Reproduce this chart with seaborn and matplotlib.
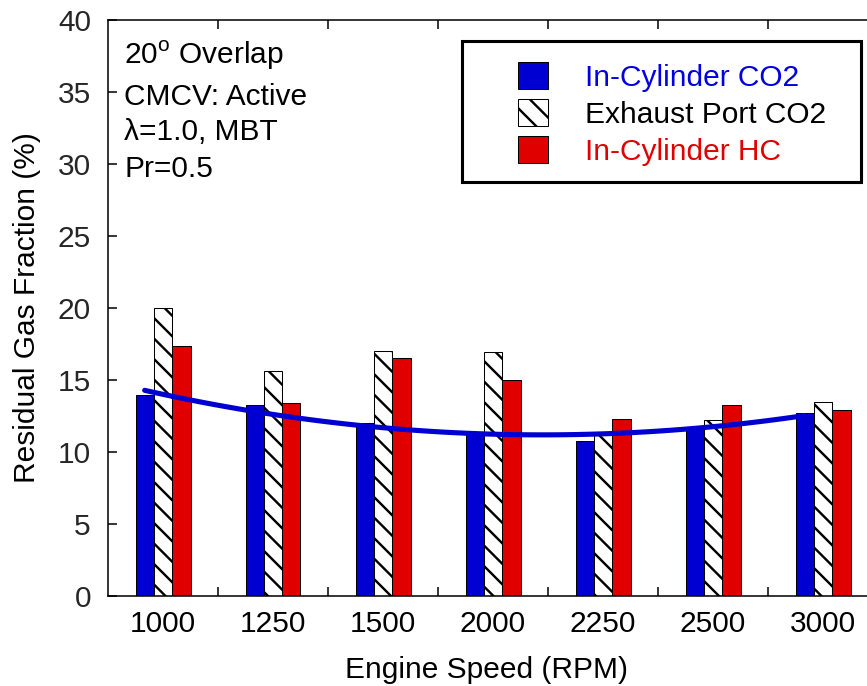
import numpy as np
import pandas as pd
import matplotlib
matplotlib.use("Agg")
import matplotlib.pyplot as plt
from matplotlib.patches import Rectangle
import seaborn as sns

# Engine speeds (categories) and residual gas fractions (%)
speeds = ["1000", "1250", "1500", "2000", "2250", "2500", "3000"]
in_cyl_co2 = [13.94, 13.24, 12.04, 11.25, 10.76, 11.64, 12.71]
exhaust_co2 = [20.0, 15.65, 17.0, 16.92, 11.3, 12.2, 13.5]
in_cyl_hc = [17.38, 13.38, 16.55, 14.98, 12.32, 13.24, 12.94]

series_names = ["In-Cylinder CO2", "Exhaust Port CO2", "In-Cylinder HC"]
notes = ["20$^{\\mathrm{o}}$ Overlap", "CMCV: Active", "\u03bb=1.0, MBT", "Pr=0.5"]

BLUE = "#0000D2"
RED = "#E00000"

sns.set_theme(style="ticks")
plt.rcParams["font.family"] = ["Liberation Sans", "DejaVu Sans"]
plt.rcParams["mathtext.fontset"] = "custom"
plt.rcParams["mathtext.rm"] = "Liberation Sans"
plt.rcParams["hatch.linewidth"] = 1.4
plt.rcParams["hatch.color"] = "black"

df = pd.DataFrame({
    "speed": speeds * 3,
    "value": in_cyl_co2 + exhaust_co2 + in_cyl_hc,
    "series": [n for n in series_names for _ in speeds],
})

DPI = 123
fig = plt.figure(figsize=(867 / DPI, 686 / DPI), dpi=DPI)
ax = fig.add_axes([108 / 867, 90 / 686, 770 / 867, 576 / 686])

sns.barplot(data=df, x="speed", y="value", hue="series", order=speeds,
            hue_order=series_names, palette=[BLUE, "white", RED],
            width=0.5, edgecolor="black", linewidth=0.6, saturation=1,
            legend=False, ax=ax)

# hatch the exhaust-port bars
for bar in ax.containers[1]:
    bar.set_hatch("\\\\")
    bar.set_edgecolor("black")

# quadratic trend through the in-cylinder CO2 bars
xpos = np.arange(len(speeds)) - 1 / 6
sns.regplot(x=xpos, y=np.array(in_cyl_co2), order=2, ci=None, scatter=False,
            truncate=True, line_kws=dict(color=BLUE, lw=3.0), ax=ax)

FS = 17.5
ax.set_xlim(-0.5, 6.5)
ax.set_ylim(0, 40)
ax.set_yticks(np.arange(0, 41, 5))
ax.set_xticks(range(len(speeds)))
ax.set_xticklabels(speeds)
ax.set_xticks(np.arange(0.5, 6.5, 1), minor=True)
ax.tick_params(axis="x", which="major", length=0, pad=8, labelsize=FS,
               colors="black")
ax.tick_params(axis="x", which="minor", direction="in", length=5.3, width=0.9,
               top=True, bottom=True, color="black")
ax.tick_params(axis="y", which="major", direction="in", length=5.3, width=0.9,
               left=True, right=True, pad=10, labelsize=FS, color="black")
for s in ax.spines.values():
    s.set_visible(True)
    s.set_linewidth(0.9)
    s.set_color("black")

ax.set_xlabel("Engine Speed (RPM)", fontsize=FS, color="black")
ax.set_ylabel("Residual Gas Fraction (%)", fontsize=FS, color="black")
ax.xaxis.set_label_coords(0.492, -0.104)
ax.yaxis.set_label_coords(-0.087, 0.5)

# operating-condition notes
note_y = [0.9236, 0.8524, 0.7917, 0.7275]
for txt, yy in zip(notes, note_y):
    ax.text(0.0214, yy, txt, transform=ax.transAxes,
            fontsize=FS, va="baseline", ha="left", color="black")

# legend with a heavy frame
leg = ax.legend(ax.containers[:3], series_names, loc="upper left",
                bbox_to_anchor=(0.5325, 0.927), frameon=False, fontsize=FS,
                borderpad=0, borderaxespad=0, handlelength=1.0,
                handleheight=1.0, handletextpad=1.24, labelspacing=0.25)
for t, c in zip(leg.get_texts(), ["#0000E0", "black", RED]):
    t.set_color(c)
ax.add_patch(Rectangle((0.4597, 0.71875), 0.5182, 0.2448,
                       transform=ax.transAxes, fill=False, lw=1.8,
                       ec="black", clip_on=False, zorder=5))

fig.savefig("out.png", dpi=DPI)
